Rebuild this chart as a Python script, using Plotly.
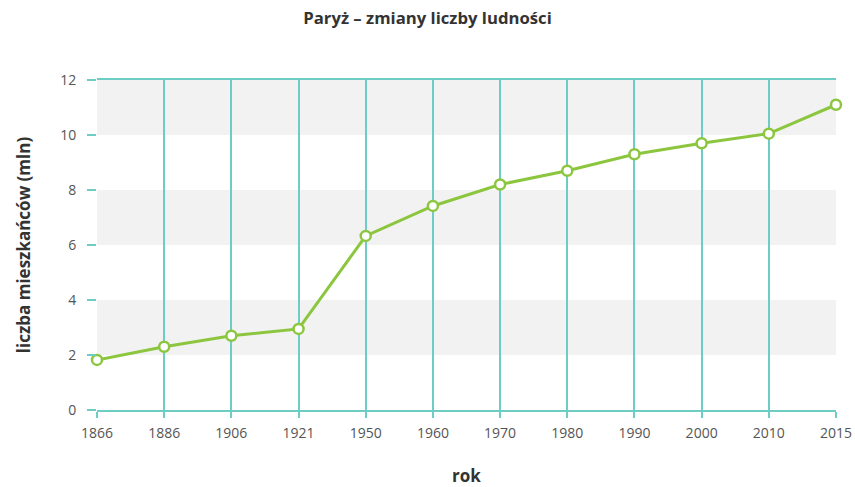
import plotly.graph_objects as go

years = ["1866", "1886", "1906", "1921", "1950", "1960", "1970", "1980", "1990", "2000", "2010", "2015"]
population = [1.82, 2.3, 2.7, 2.95, 6.33, 7.42, 8.2, 8.7, 9.3, 9.7, 10.05, 11.1]
bands = [(2, 4), (6, 8), (10, 12)]
y_ticks = [0, 2, 4, 6, 8, 10, 12]

TEAL = "#6dcdc4"
GREEN = "#8cc63f"
FONT = "Open Sans"

fig = go.Figure()
fig.add_trace(go.Scatter(
    x=list(range(len(years))), y=population, mode="lines+markers",
    line=dict(color=GREEN, width=3),
    marker=dict(size=10, color="white", line=dict(color=GREEN, width=2.5)),
    cliponaxis=False, showlegend=False, hoverinfo="x+y",
))

for lo, hi in bands:
    fig.add_shape(type="rect", xref="paper", yref="y", x0=0, x1=1, y0=lo, y1=hi,
                  fillcolor="#f2f2f2", line=dict(width=0), layer="below")

fig.update_layout(
    width=855, height=487,
    margin=dict(l=97, r=19, t=80, b=77),
    paper_bgcolor="white", plot_bgcolor="white",
    font=dict(family=FONT, color="#555555", size=14),
    title=dict(text="<b>Paryż – zmiany liczby ludności</b>", x=0.5, xanchor="center",
               y=1 - 18 / 487, yanchor="middle", automargin=False,
               font=dict(family=FONT, size=16.7, color="#333333")),
    xaxis=dict(
        tickmode="array", tickvals=list(range(len(years))), ticktext=years,
        range=[0, len(years) - 1], showgrid=True, gridcolor=TEAL, gridwidth=1.5,
        showline=True, linecolor=TEAL, linewidth=2, mirror=True,
        ticks="outside", ticklen=6, tickcolor=TEAL, tickwidth=1.5,
        ticklabelstandoff=3, automargin=False,
        zeroline=False, tickfont=dict(size=14, color="#555555"),
        title=dict(text="<b>rok</b>", font=dict(size=17, color="#333333"), standoff=30),
    ),
    yaxis=dict(
        range=[0, 12], tickvals=y_ticks, showgrid=False, zeroline=False,
        showline=False, ticks="outside", ticklen=9, tickcolor=TEAL, tickwidth=1.5,
        ticklabelstandoff=8, automargin=False,
        tickfont=dict(size=14, color="#555555"),
        title=dict(text="<b>liczba mieszkańców (mln)</b>", font=dict(size=17, color="#333333"), standoff=25),
    ),
)

fig.write_html("out.html", config={"displayModeBar": False},
               post_script="document.body.style.margin='0';")
